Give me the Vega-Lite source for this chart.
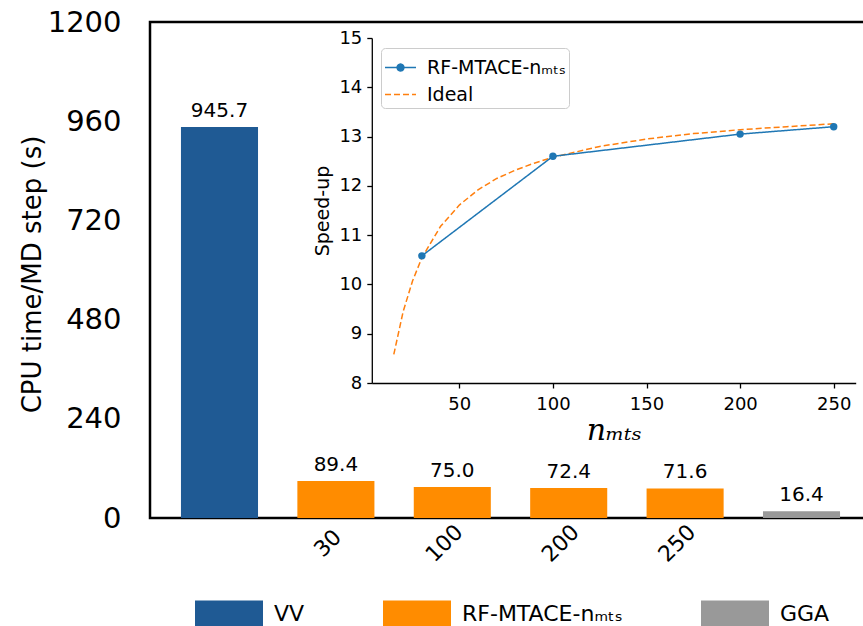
{
  "$schema": "https://vega.github.io/schema/vega-lite/v6.json",
  "width": 721,
  "height": 496,
  "autosize": "none",
  "padding": {"left": 150, "top": 22, "right": 0, "bottom": 108},
  "config": {
    "font": "DejaVu Sans",
    "view": {"stroke": "black", "strokeWidth": 2.5},
    "axis": {"grid": false, "labelColor": "black", "titleColor": "black", "domainColor": "black", "tickColor": "black"}
  },
  "resolve": {
    "scale": {"x": "independent", "y": "independent", "color": "independent", "strokeDash": "independent"},
    "axis": {"x": "independent", "y": "independent"},
    "legend": {"color": "independent", "strokeDash": "independent"}
  },
  "layer": [
    {
      "data": {
        "values": [
          {"cat": "VV", "group": "VV", "time": 945.7, "label": "945.7"},
          {"cat": "30", "group": "RF-MTACE-nₘₜₛ", "time": 89.4, "label": "89.4"},
          {"cat": "100", "group": "RF-MTACE-nₘₜₛ", "time": 75.0, "label": "75.0"},
          {"cat": "200", "group": "RF-MTACE-nₘₜₛ", "time": 72.4, "label": "72.4"},
          {"cat": "250", "group": "RF-MTACE-nₘₜₛ", "time": 71.6, "label": "71.6"},
          {"cat": "GGA", "group": "GGA", "time": 16.4, "label": "16.4"}
        ]
      },
      "encoding": {
        "x": {
          "field": "cat", "type": "nominal", "sort": null,
          "scale": {"paddingInner": 0.338, "paddingOuter": 0.266},
          "axis": {
            "title": null, "orient": "bottom",
            "labelExpr": "datum.value == 'VV' || datum.value == 'GGA' ? '' : datum.value",
            "labelAngle": -45, "labelAlign": "center", "labelBaseline": "middle",
            "labelPadding": 25, "labelOffset": -8, "labelFontSize": 22, "ticks": false, "domain": false
          }
        },
        "y": {
          "field": "time", "type": "quantitative",
          "scale": {"domain": [0, 1200], "nice": false},
          "axis": {
            "orient": "left", "format": "d",
            "values": [0, 240, 480, 720, 960, 1200],
            "ticks": false, "domain": false, "labelPadding": 29, "labelFontSize": 29,
            "title": "CPU time/MD step (s)", "titleFontSize": 26, "titleFontWeight": "normal",
            "titleX": -118, "titleY": 252, "titleAlign": "center", "titleBaseline": "middle", "titleAngle": -90
          }
        }
      },
      "layer": [
        {
          "mark": {"type": "bar"},
          "encoding": {
            "color": {
              "field": "group", "type": "nominal",
              "scale": {"domain": ["VV", "RF-MTACE-nₘₜₛ", "GGA"], "range": ["#1f5a94", "#ff8c00", "#999999"]},
              "legend": {
                "orient": "none", "legendX": 45, "legendY": 558, "direction": "horizontal", "columns": 3,
                "title": null, "symbolType": "M-1,-0.4H1V0.4H-1Z", "symbolSize": 4624, "symbolStrokeWidth": 0,
                "symbolOpacity": 1, "labelFontSize": 22, "labelOffset": 11, "columnPadding": 78,
                "labelLimit": 400, "labelColor": "black"
              }
            }
          }
        },
        {
          "mark": {"type": "text", "fontSize": 20, "baseline": "alphabetic", "dy": -10, "color": "black"},
          "encoding": {"text": {"field": "label"}}
        }
      ]
    },
    {
      "data": {
        "values": [
          {"series": "Ideal", "n": 15, "speedup": 8.58},
          {"series": "Ideal", "n": 20, "speedup": 9.45},
          {"series": "Ideal", "n": 25, "speedup": 10.07},
          {"series": "Ideal", "n": 30, "speedup": 10.54},
          {"series": "Ideal", "n": 40, "speedup": 11.18},
          {"series": "Ideal", "n": 50, "speedup": 11.61},
          {"series": "Ideal", "n": 60, "speedup": 11.92},
          {"series": "Ideal", "n": 70, "speedup": 12.15},
          {"series": "Ideal", "n": 80, "speedup": 12.32},
          {"series": "Ideal", "n": 90, "speedup": 12.46},
          {"series": "Ideal", "n": 100, "speedup": 12.58},
          {"series": "Ideal", "n": 125, "speedup": 12.8},
          {"series": "Ideal", "n": 150, "speedup": 12.95},
          {"series": "Ideal", "n": 175, "speedup": 13.06},
          {"series": "Ideal", "n": 200, "speedup": 13.14},
          {"series": "Ideal", "n": 225, "speedup": 13.2},
          {"series": "Ideal", "n": 250, "speedup": 13.26},
          {"series": "RF-MTACE-nₘₜₛ", "n": 30, "speedup": 10.58},
          {"series": "RF-MTACE-nₘₜₛ", "n": 100, "speedup": 12.6},
          {"series": "RF-MTACE-nₘₜₛ", "n": 200, "speedup": 13.05},
          {"series": "RF-MTACE-nₘₜₛ", "n": 250, "speedup": 13.2}
        ]
      },
      "encoding": {
        "x": {
          "field": "n", "type": "quantitative",
          "scale": {"domain": [3.25, 261.75], "range": [221.8, 705.7], "nice": false, "zero": false},
          "axis": {
            "orient": "bottom", "offset": -135, "zindex": 1,
            "values": [50, 100, 150, 200, 250], "tickSize": 5, "labelFontSize": 18, "labelPadding": 7,
            "domainWidth": 1.3, "tickWidth": 1.3,
            "title": "nₘₜₛ", "titleFont": "DejaVu Serif", "titleFontStyle": "italic", "titleFontWeight": "normal",
            "titleFontSize": 30, "titlePadding": 2
          }
        },
        "y": {
          "field": "speedup", "type": "quantitative",
          "scale": {"domain": [8, 15], "range": [361, 16], "nice": false, "zero": false},
          "axis": {
            "orient": "left", "offset": -221.8, "zindex": 1,
            "values": [8, 9, 10, 11, 12, 13, 14, 15], "tickSize": 5, "labelFontSize": 18, "labelPadding": 5,
            "domainWidth": 1.3, "tickWidth": 1.3,
            "title": "Speed-up", "titleFontSize": 19, "titleFontWeight": "normal", "titlePadding": 6
          }
        }
      },
      "layer": [
        {
          "data": {"values": [{}]},
          "mark": {"type": "rect", "fill": "white", "stroke": "black", "strokeWidth": 1.3},
          "encoding": {
            "x": {"datum": 3.25, "type": "quantitative"},
            "x2": {"datum": 261.75},
            "y": {"datum": 8, "type": "quantitative"},
            "y2": {"datum": 15}
          }
        },
        {
          "mark": {"type": "line", "strokeWidth": 1.5},
          "encoding": {
            "color": {
              "field": "series", "type": "nominal",
              "scale": {"domain": ["RF-MTACE-nₘₜₛ", "Ideal"], "range": ["#1f77b4", "#ff7f0e"]},
              "legend": {
                "orient": "none", "legendX": 231, "legendY": 26, "title": null,
                "fillColor": "white", "strokeColor": "#cccccc", "cornerRadius": 4, "padding": 3,
                "labelFontSize": 19, "labelColor": "black", "rowPadding": -9, "labelOffset": 10,
                "symbolSize": 961, "symbolStrokeWidth": 1.5, "labelLimit": 300,
                "symbolType": "stroke",
                "encode": {
                  "symbols": {
                    "update": {
                      "shape": [
                        {"test": "datum.value === 'Ideal'", "value": "stroke"},
                        {"value": "M-1,0H1M-0.22,0A0.22,0.22 0 1 1 0.22,0A0.22,0.22 0 1 1 -0.22,0Z"}
                      ],
                      "fill": [
                        {"test": "datum.value === 'Ideal'", "value": "transparent"},
                        {"value": "#1f77b4"}
                      ]
                    }
                  }
                }
              }
            },
            "strokeDash": {
              "field": "series", "type": "nominal",
              "scale": {"domain": ["RF-MTACE-nₘₜₛ", "Ideal"], "range": [[1, 0], [6, 3]]},
              "legend": {
                "orient": "none", "legendX": 231, "legendY": 26, "title": null,
                "fillColor": "white", "strokeColor": "#cccccc", "cornerRadius": 4, "padding": 3,
                "labelFontSize": 19, "labelColor": "black", "rowPadding": -9, "labelOffset": 10,
                "symbolSize": 961, "symbolStrokeWidth": 1.5, "labelLimit": 300,
                "symbolType": "stroke"
              }
            }
          }
        },
        {
          "transform": [{"filter": "datum.series !== 'Ideal'"}],
          "mark": {"type": "point", "filled": true, "size": 55, "opacity": 1},
          "encoding": {
            "color": {"field": "series", "type": "nominal", "legend": null}
          }
        }
      ]
    }
  ]
}
